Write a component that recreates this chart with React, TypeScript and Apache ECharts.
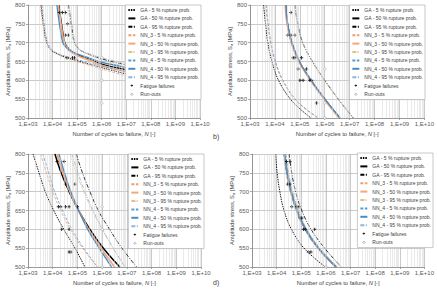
import React, { useEffect, useRef } from 'react';
import * as echarts from 'echarts';

const FONT = '"Liberation Sans", Arial, sans-serif';

const LEGEND_NAMES = [
  'GA - 5 % rupture prob.',
  'GA - 50 % rupture prob.',
  'GA - 95 % rupture prob.',
  'NN_3 - 5 % rupture prob.',
  'NN_3 - 50 % rupture prob.',
  'NN_3 - 95 % rupture prob.',
  'NN_4 - 5 % rupture prob.',
  'NN_4 - 50 % rupture prob.',
  'NN_4 - 95 % rupture prob.',
  'Fatigue failures',
  'Run-outs',
];
const X_TICK_LABELS = ['1,E+03', '1,E+04', '1,E+05', '1,E+06', '1,E+07', '1,E+08', '1,E+09', '1,E+10'];
const Y_MIN = 500;
const Y_MAX = 800;
const Y_STEP = 50;
const MINOR_MULTIPLIERS = [2, 3, 4, 5, 6, 7, 8, 9];
const DECADES = [1e3, 1e4, 1e5, 1e6, 1e7, 1e8, 1e9];

// ---- Panel a (top-left): [N, S] ----
const GA5_A = [[3.4e3, 800], [4.2e3, 750], [5.8e3, 700], [8.9e3, 680], [1.6e4, 670], [3.2e4, 662], [1e5, 652], [1e6, 634], [1e7, 617], [1e8, 603], [1e9, 592], [1e10, 583]];
const GA50_A = [[1.8e4, 800], [2.3e4, 750], [3.1e4, 700], [3.8e4, 690], [5e4, 680], [1e5, 668], [3.2e5, 655], [1e6, 643], [1e7, 628], [1e8, 616], [1e9, 606], [1e10, 598]];
const GA95_A = [[4.5e4, 800], [5.8e4, 750], [7.9e4, 700], [1.1e5, 685], [1.6e5, 677], [4e5, 666], [1e6, 657], [1e7, 641], [1e8, 629], [1e9, 619], [1e10, 611]];
const NN3_5_A = [[3.2e3, 800], [4e3, 750], [5.5e3, 700], [8.5e3, 680], [1.5e4, 670], [3e4, 661], [1e5, 650], [1e6, 630], [1e7, 612], [1e8, 598], [1e9, 587], [1e10, 578]];
const NN3_50_A = [[1.7e4, 800], [2.2e4, 750], [2.95e4, 700], [3.6e4, 690], [4.7e4, 680], [1e5, 666], [3.2e5, 653], [1e6, 640], [1e7, 624], [1e8, 611], [1e9, 600], [1e10, 592]];
const NN3_95_A = [[4.8e4, 800], [6.2e4, 750], [8.5e4, 700], [1.2e5, 685], [1.8e5, 676], [4.2e5, 664], [1e6, 654], [1e7, 636], [1e8, 622], [1e9, 611], [1e10, 602]];
const NN4_5_A = [[3.7e3, 800], [4.6e3, 750], [6.3e3, 700], [9.5e3, 681], [1.7e4, 671], [3.4e4, 664], [1e5, 655], [1e6, 638], [1e7, 622], [1e8, 609], [1e9, 599], [1e10, 590]];
const NN4_50_A = [[1.5e4, 800], [1.9e4, 750], [2.6e4, 700], [3.3e4, 690], [4.4e4, 682], [1e5, 670], [3.2e5, 659], [1e6, 648], [1e7, 634], [1e8, 623], [1e9, 614], [1e10, 607]];
const NN4_95_A = [[4.2e4, 800], [5.4e4, 750], [7.4e4, 700], [1.05e5, 686], [1.5e5, 678], [4e5, 668], [1e6, 660], [1e7, 645], [1e8, 634], [1e9, 625], [1e10, 618]];
const FATIGUE_A = [[1.9e4, 780], [2.5e4, 780], [3.3e4, 780], [4.1e4, 750], [3.4e4, 720], [4.4e4, 720], [3.9e4, 660], [6.5e4, 660], [7.8e4, 660]];
const RUNOUT_A = [[1e6, 660], [1e6, 630], [1e6, 600], [1e6, 540]];

// ---- Panel b (top-right) ----
const GA5_B = [[3.5e3, 800], [4.2e3, 750], [5.2e3, 700], [7.6e3, 650], [1.4e4, 600], [4.2e4, 550], [1.2e5, 520], [2.8e5, 500]];
const GA50_B = [[2.7e4, 800], [3.2e4, 750], [4.7e4, 700], [9.5e4, 650], [2.8e5, 600], [1e6, 550], [4e6, 500]];
const GA95_B = [[6.3e4, 800], [8.3e4, 750], [1.3e5, 700], [3.2e5, 650], [1e6, 600], [3.5e6, 550], [1.4e7, 500]];
const NN3_5_B = [[4.3e3, 800], [5.1e3, 750], [6.6e3, 700], [1e4, 650], [2e4, 600], [6.3e4, 550], [2e5, 520], [5.3e5, 500]];
const NN3_50_B = [[2.6e4, 800], [3.1e4, 750], [4.6e4, 700], [9.3e4, 650], [2.7e5, 600], [9.6e5, 550], [3.8e6, 500]];
const NN3_95_B = [[6.1e4, 800], [8e4, 750], [1.27e5, 700], [3.1e5, 650], [9.6e5, 600], [3.4e6, 550], [1.35e7, 500]];
const NN4_5_B = [[4.6e3, 800], [5.4e3, 750], [7e3, 700], [1.05e4, 650], [2.1e4, 600], [6.6e4, 550], [2.1e5, 520], [5.8e5, 500]];
const NN4_50_B = [[2.75e4, 800], [3.25e4, 750], [4.8e4, 700], [9.6e4, 650], [2.85e5, 600], [1.02e6, 550], [4.1e6, 500]];
const NN4_95_B = [[6.5e4, 800], [8.5e4, 750], [1.33e5, 700], [3.3e5, 650], [1.03e6, 600], [3.6e6, 550], [1.45e7, 500]];
const FATIGUE_B = [[4.4e4, 780], [3.2e4, 720], [4.4e4, 720], [6.3e4, 720], [5.4e4, 660], [6.3e4, 660], [1.17e5, 660], [8.5e4, 630], [1.86e5, 630], [1e5, 600], [1.35e5, 600], [2.5e5, 600], [2.95e5, 600], [4.7e5, 540]];
const RUNOUT_B = [[1e6, 630], [1e6, 540], [1e6, 500]];

// ---- Panel c (bottom-left) ----
const GA5_C = [[1.6e3, 800], [2.8e3, 750], [5e3, 700], [1.1e4, 650], [2.8e4, 600], [8e4, 550], [2e5, 500]];
const GA50_C = [[1.23e4, 800], [2.2e4, 750], [4.6e4, 700], [1.12e5, 650], [3.2e5, 600], [1.12e6, 550], [5.2e6, 500]];
const GA95_C = [[8.9e4, 800], [1.6e5, 750], [3.2e5, 700], [7e5, 650], [2e6, 600], [6.3e6, 550], [2.5e7, 500]];
const NN3_5_C = [[3.2e3, 800], [5.6e3, 750], [1e4, 700], [2.1e4, 650], [5.2e4, 600], [1.6e5, 550], [6.3e5, 500]];
const NN3_50_C = [[1.5e4, 800], [2.6e4, 750], [5e4, 700], [1.12e5, 650], [2.8e5, 600], [8.9e5, 550], [3.2e6, 500]];
const NN3_95_C = [[5e4, 800], [8.9e4, 750], [1.8e5, 700], [4e5, 650], [1e6, 600], [2.8e6, 550], [8.9e6, 500]];
const NN4_5_C = [[4e3, 800], [6.9e3, 750], [1.2e4, 700], [2.5e4, 650], [6e4, 600], [1.8e5, 550], [6.6e5, 500]];
const NN4_50_C = [[1.8e4, 800], [3e4, 750], [5.4e4, 700], [1.12e5, 650], [2.6e5, 600], [7.6e5, 550], [2.4e6, 500]];
const NN4_95_C = [[6e4, 800], [1.05e5, 750], [2e5, 700], [4.3e5, 650], [1.05e6, 600], [2.8e6, 550], [8.3e6, 500]];
const FATIGUE_C = [[1.5e4, 780], [2.9e4, 780], [3.3e4, 720], [7.9e4, 720], [1.7e4, 660], [2.1e4, 660], [3.3e4, 660], [4.6e4, 660], [1e5, 660], [2.3e4, 600], [4.6e4, 600], [4.6e4, 540], [5.4e4, 540]];
const RUNOUT_C = [[1e6, 660], [1e6, 600], [1e6, 540], [1e6, 500]];

// ---- Panel d (bottom-right) ----
const GA5_D = [[9e3, 800], [1.05e4, 750], [1.35e4, 700], [2e4, 650], [4e4, 600], [1.3e5, 550], [9.5e5, 500]];
const GA50_D = [[2.1e4, 800], [2.7e4, 750], [3.9e4, 700], [6.8e4, 650], [1.5e5, 600], [5e5, 550], [2.6e6, 500]];
const GA95_D = [[3.2e4, 800], [4.1e4, 750], [5.9e4, 700], [1.05e5, 650], [2.5e5, 600], [8.9e5, 550], [4.2e6, 500]];
const NN3_5_D = [[1.9e4, 800], [2.45e4, 750], [3.55e4, 700], [6.2e4, 650], [1.37e5, 600], [4.55e5, 550], [2.35e6, 500]];
const NN3_50_D = [[2.05e4, 800], [2.65e4, 750], [3.8e4, 700], [6.6e4, 650], [1.46e5, 600], [4.9e5, 550], [2.55e6, 500]];
const NN3_95_D = [[2.35e4, 800], [3e4, 750], [4.4e4, 700], [7.6e4, 650], [1.68e5, 600], [5.6e5, 550], [2.9e6, 500]];
const NN4_5_D = [[1.95e4, 800], [2.5e4, 750], [3.65e4, 700], [6.35e4, 650], [1.4e5, 600], [4.65e5, 550], [2.4e6, 500]];
const NN4_50_D = [[2.1e4, 800], [2.7e4, 750], [3.9e4, 700], [6.8e4, 650], [1.5e5, 600], [5e5, 550], [2.6e6, 500]];
const NN4_95_D = [[2.4e4, 800], [3.1e4, 750], [4.5e4, 700], [7.8e4, 650], [1.72e5, 600], [5.7e5, 550], [2.95e6, 500]];
const FATIGUE_D = [[2.5e4, 780], [3.5e4, 780], [2.8e4, 720], [3.5e4, 720], [4.1e4, 660], [6.6e4, 660], [8.1e4, 660], [8.9e4, 630], [1.05e5, 630], [1.23e5, 600], [1.45e5, 600], [3.5e5, 600], [1.95e5, 540], [2.45e5, 540]];
const RUNOUT_D = [[1e6, 500]];

const CURVE_STYLES = [
  { color: '#000000', width: 0.9, type: [1.5, 1] },
  { color: '#000000', width: 1.5, type: 'solid' },
  { color: '#000000', width: 0.8, type: [4, 1.5, 1, 1.5] },
  { color: '#ee9f6c', width: 0.8, type: [3, 1.5] },
  { color: '#f4a77a', width: 1.8, type: 'solid' },
  { color: '#e3c07e', width: 0.8, type: [4, 1.2, 1, 1.2, 1, 1.2] },
  { color: '#5b9bd5', width: 0.8, type: [3, 1.5] },
  { color: '#4a8cc4', width: 1.3, type: 'solid' },
  { color: '#8fb4d9', width: 0.8, type: [4, 1.5, 1, 1.5] },
];

const PLUS_SYMBOL = 'path://M0,3.6H10V6.4H0Z M3.6,0H6.4V10H3.6Z';
const PLUS_ICON = 'path://M0,0M10,10M3,4.4H7V5.6H3Z M4.4,3H5.6V7H4.4Z';
const DIAMOND_ICON = 'path://M0,0M10,10M5,3L7,5L5,7L3,5Z';

const PANELS = [
  {
    curves: [GA5_A, GA50_A, GA95_A, NN3_5_A, NN3_50_A, NN3_95_A, NN4_5_A, NN4_50_A, NN4_95_A],
    fatigue: FATIGUE_A, runouts: RUNOUT_A,
    grid: { left: 28, top: 5, width: 172, height: 113 },
    legend: { right: 236, top: 5 },
  },
  {
    curves: [GA5_B, GA50_B, GA95_B, NN3_5_B, NN3_50_B, NN3_95_B, NN4_5_B, NN4_50_B, NN4_95_B],
    fatigue: FATIGUE_B, runouts: RUNOUT_B,
    grid: { left: 250, top: 5, width: 175, height: 113 },
    legend: { right: 12, top: 5 },
  },
  {
    curves: [GA5_C, GA50_C, GA95_C, NN3_5_C, NN3_50_C, NN3_95_C, NN4_5_C, NN4_50_C, NN4_95_C],
    fatigue: FATIGUE_C, runouts: RUNOUT_C,
    grid: { left: 28, top: 154, width: 173, height: 113 },
    legend: { right: 233, top: 154 },
  },
  {
    curves: [GA5_D, GA50_D, GA95_D, NN3_5_D, NN3_50_D, NN3_95_D, NN4_5_D, NN4_50_D, NN4_95_D],
    fatigue: FATIGUE_D, runouts: RUNOUT_D,
    grid: { left: 252, top: 154, width: 175, height: 113 },
    legend: { right: 4, top: 153 },
  },
];

function buildOption() {
  const grid: any[] = [];
  const xAxis: any[] = [];
  const yAxis: any[] = [];
  const legend: any[] = [];
  const series: any[] = [];
  const minorValues: number[] = [];
  DECADES.forEach((d) => MINOR_MULTIPLIERS.forEach((m) => minorValues.push(m * d)));

  const legendData = LEGEND_NAMES.map((n) => {
    if (n === 'Fatigue failures') return { name: n, icon: PLUS_ICON, itemStyle: { color: '#000', opacity: 1 } };
    if (n === 'Run-outs') return { name: n, icon: DIAMOND_ICON, itemStyle: { color: '#fff', borderColor: '#7f7f7f', borderWidth: 0.6, opacity: 1 } };
    return { name: n };
  });

  PANELS.forEach((p, i) => {
    grid.push({ ...p.grid, containLabel: false });
    xAxis.push({
      type: 'log', logBase: 10, gridIndex: i, min: 1e3, max: 1e10, splitNumber: 7,
      axisLine: { show: true, onZero: false, lineStyle: { color: '#868686', width: 0.7 } },
      axisTick: { show: true, length: 2, lineStyle: { color: '#868686', width: 0.7 } },
      axisLabel: {
        fontSize: 6, color: '#595959', fontFamily: FONT, margin: 3,
        formatter: (v: number) => X_TICK_LABELS[Math.round(Math.log10(v)) - 3] ?? '',
      },
      splitLine: { show: true, lineStyle: { color: '#a6a6a6', width: 0.6 } },
      name: '{n|Number of cycles to failure, }{i|N}{n| [-]}',
      nameLocation: 'middle', nameGap: 13,
      nameTextStyle: {
        rich: {
          n: { fontSize: 5.8, color: '#404040', fontFamily: FONT },
          i: { fontSize: 5.8, color: '#404040', fontFamily: FONT, fontStyle: 'italic' },
        },
      },
    });
    yAxis.push({
      type: 'value', gridIndex: i, min: Y_MIN, max: Y_MAX, interval: Y_STEP,
      axisLine: { show: true, lineStyle: { color: '#868686', width: 0.7 } },
      axisTick: { show: true, length: 2, lineStyle: { color: '#868686', width: 0.7 } },
      axisLabel: { fontSize: 6, color: '#595959', fontFamily: FONT, margin: 3 },
      splitLine: { show: true, lineStyle: { color: '#a6a6a6', width: 0.6 } },
      name: '{n|Amplitude stress, S}{s|a}{n| [MPa]}',
      nameLocation: 'middle', nameGap: 17, nameRotate: 90,
      nameTextStyle: {
        rich: {
          n: { fontSize: 5.8, color: '#404040', fontFamily: FONT },
          s: { fontSize: 4.2, color: '#404040', fontFamily: FONT, verticalAlign: 'bottom', padding: [2, 0, 0, 0] },
        },
      },
    });
    legend.push({
      ...p.legend, orient: 'vertical', data: legendData, selectedMode: false,
      itemWidth: 7, itemHeight: 6, itemGap: 2.4, padding: [2, 2, 2, 2],
      backgroundColor: '#ffffff', borderColor: '#a6a6a6', borderWidth: 0.6, borderRadius: 0,
      itemStyle: { opacity: 0 },
      textStyle: { fontSize: 5, color: '#404040', fontFamily: FONT, lineHeight: 6 },
      z: 6,
    });
    // minor log grid lines
    series.push({
      type: 'line', xAxisIndex: i, yAxisIndex: i, data: [[1e3, 500]], symbol: 'none', silent: true, z: 1,
      lineStyle: { width: 0 },
      markLine: {
        silent: true, symbol: ['none', 'none'], label: { show: false },
        lineStyle: { color: '#d4d4d4', width: 0.5, type: 'solid' },
        emphasis: { disabled: true },
        data: minorValues.map((v) => ({ xAxis: v })),
      },
    });
    p.curves.forEach((c, k) => {
      const st = CURVE_STYLES[k];
      series.push({
        type: 'line', name: LEGEND_NAMES[k], xAxisIndex: i, yAxisIndex: i, data: c,
        symbol: 'none', smooth: 0.4, z: 2 + k * 0.01,
        lineStyle: { color: st.color, width: st.width, type: st.type },
        itemStyle: { color: st.color },
        emphasis: { disabled: true },
      });
    });
    series.push({
      type: 'scatter', name: 'Fatigue failures', xAxisIndex: i, yAxisIndex: i, data: p.fatigue,
      symbol: PLUS_SYMBOL, symbolSize: 3.4, itemStyle: { color: '#000000' }, z: 3,
    });
    series.push({
      type: 'scatter', name: 'Run-outs', xAxisIndex: i, yAxisIndex: i, data: p.runouts,
      symbol: 'diamond', symbolSize: 3.2, itemStyle: { color: '#ffffff', borderColor: '#8c8c8c', borderWidth: 0.6 }, z: 3,
    });
  });

  return {
    animation: false,
    backgroundColor: '#ffffff',
    grid, xAxis, yAxis, legend, series,
    graphic: [
      { type: 'text', left: 213, top: 133, style: { text: 'b)', fontSize: 7, fill: '#404040', fontFamily: FONT } },
      { type: 'text', left: 213, top: 279, style: { text: 'd)', fontSize: 7, fill: '#404040', fontFamily: FONT } },
    ],
  };
}

export default function App() {
  const ref = useRef<HTMLDivElement>(null);
  useEffect(() => {
    const chart = echarts.init(ref.current!, null, { renderer: 'svg', width: 437, height: 290 });
    chart.setOption(buildOption() as any);
    return () => chart.dispose();
  }, []);
  return <div ref={ref} style={{ position: 'absolute', left: 0, top: 0, width: 437, height: 290 }} />;
}
